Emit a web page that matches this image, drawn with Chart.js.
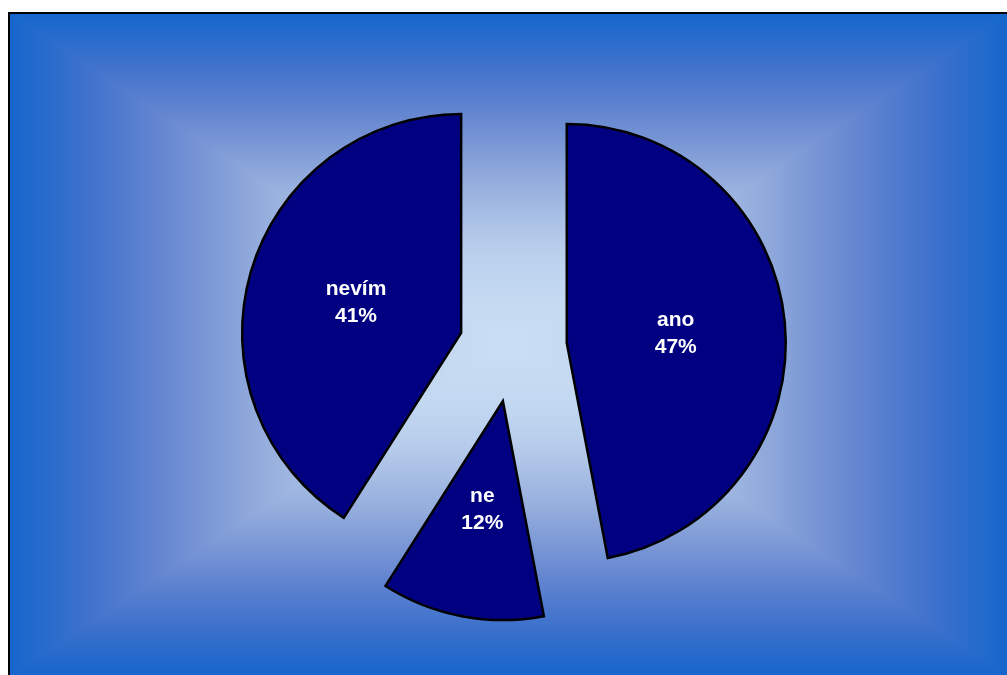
<!DOCTYPE html>
<html>
<head>
<meta charset="utf-8">
<title>ano / ne / nevím</title>
<script src="https://cdn.jsdelivr.net/npm/chart.js@4/dist/chart.umd.min.js"></script>
<style>
  html, body { margin: 0; padding: 0; background: #ffffff; }
  #pie { display: block; }
</style>
</head>
<body>
<canvas id="pie" width="1007" height="675"></canvas>
<script>
// answers and their share (percent)
const labels = ['ano', 'ne', 'nevím'];
const values = [47, 12, 41];

const SLICE_FILL = '#000080';
const EXPLODE = 54;      // px each slice is pulled out along its middle angle
const RADIUS = 219;

// box-shaped gradient behind the pie: dark blue at the frame, pale in the middle
const bgStops = [
  [0.00, '#1466cc'],
  [0.15, '#3d71cc'],
  [0.30, '#6485d0'],
  [0.50, '#93acdc'],
  [0.70, '#b8cdeb'],
  [0.85, '#c4d9f1'],
  [1.00, '#cadef4'],
];

const frameBackground = {
  id: 'frameBackground',
  beforeDraw(chart) {
    const ctx = chart.ctx;
    const L = 9, T = 13, R = 1009, B = 677;
    const cx = (L + R) / 2, cy = (T + B) / 2;
    const fillWith = (x0, y0, x1, y1) => {
      const grad = ctx.createLinearGradient(x0, y0, x1, y1);
      bgStops.forEach(([p, c]) => grad.addColorStop(p, c));
      ctx.fillStyle = grad;
    };
    ctx.save();
    ctx.fillStyle = '#ffffff';
    ctx.fillRect(0, 0, chart.width, chart.height);

    // top and bottom halves first (vertical ramps), no gaps between them
    ctx.save();
    ctx.beginPath(); ctx.rect(L, T, R - L, cy - T); ctx.clip();
    fillWith(L, T, L, cy);
    ctx.fillRect(L, T, R - L, cy - T);
    ctx.restore();
    ctx.save();
    ctx.beginPath(); ctx.rect(L, cy, R - L, B - cy); ctx.clip();
    fillWith(L, B, L, cy);
    ctx.fillRect(L, cy, R - L, B - cy);
    ctx.restore();

    // left and right wedges on top (horizontal ramps)
    [[L, cx], [R, cx]].forEach(([edge, mid]) => {
      ctx.save();
      ctx.beginPath();
      ctx.moveTo(edge, T);
      ctx.lineTo(edge, B);
      ctx.lineTo(cx, cy);
      ctx.closePath();
      ctx.clip();
      fillWith(edge, T, mid, T);
      ctx.fillRect(L, T, R - L, B - T);
      ctx.restore();
    });

    ctx.strokeStyle = '#000000';
    ctx.lineWidth = 2;
    ctx.strokeRect(L, T, R - L, B - T);
    ctx.restore();
  }
};

// pull each slice out from the centre before the arc paints itself
function sliceShift(arc) {
  const { startAngle, endAngle } = arc.getProps(['startAngle', 'endAngle']);
  const mid = (startAngle + endAngle) / 2;
  return { mid, dx: Math.cos(mid) * EXPLODE, dy: Math.sin(mid) * EXPLODE };
}

const explodedSlices = {
  id: 'explodedSlices',
  beforeDatasetDraw(chart, args) {
    const ctx = chart.ctx;
    args.meta.data.forEach(arc => {
      const { dx, dy } = sliceShift(arc);
      ctx.save();
      ctx.translate(dx, dy);
      arc.draw(ctx, chart.chartArea);
      ctx.restore();
    });
    return false;
  },
  // white "name / percent" text inside each slice
  afterDatasetsDraw(chart) {
    const ctx = chart.ctx;
    const meta = chart.getDatasetMeta(0);
    const total = values.reduce((s, v) => s + v, 0);
    ctx.save();
    ctx.fillStyle = '#ffffff';
    ctx.font = 'bold 21px "Liberation Sans", Arial, sans-serif';
    ctx.textAlign = 'center';
    ctx.textBaseline = 'alphabetic';
    meta.data.forEach((arc, i) => {
      const { x, y, outerRadius } = arc.getProps(['x', 'y', 'outerRadius']);
      const { mid } = sliceShift(arc);
      const dist = EXPLODE + outerRadius * 0.5;
      const lx = x + Math.cos(mid) * dist;
      const ly = y + Math.sin(mid) * dist;
      const pct = Math.round(values[i] / total * 100) + '%';
      ctx.fillText(labels[i], lx, ly - 7);
      ctx.fillText(pct, lx, ly + 20);
    });
    ctx.restore();
  }
};

new Chart(document.getElementById('pie'), {
  type: 'pie',
  data: {
    labels: labels,
    datasets: [{
      data: values,
      backgroundColor: SLICE_FILL,
      borderColor: '#000000',
      borderWidth: 2.5,
      borderJoinStyle: 'miter',
      radius: RADIUS,
    }]
  },
  options: {
    responsive: false,
    devicePixelRatio: 1,
    animation: false,
    layout: { padding: { left: 19, top: 21 } },
    plugins: {
      legend: { display: false },
      tooltip: { enabled: false },
    },
    events: [],
  },
  plugins: [frameBackground, explodedSlices]
});
</script>
</body>
</html>
